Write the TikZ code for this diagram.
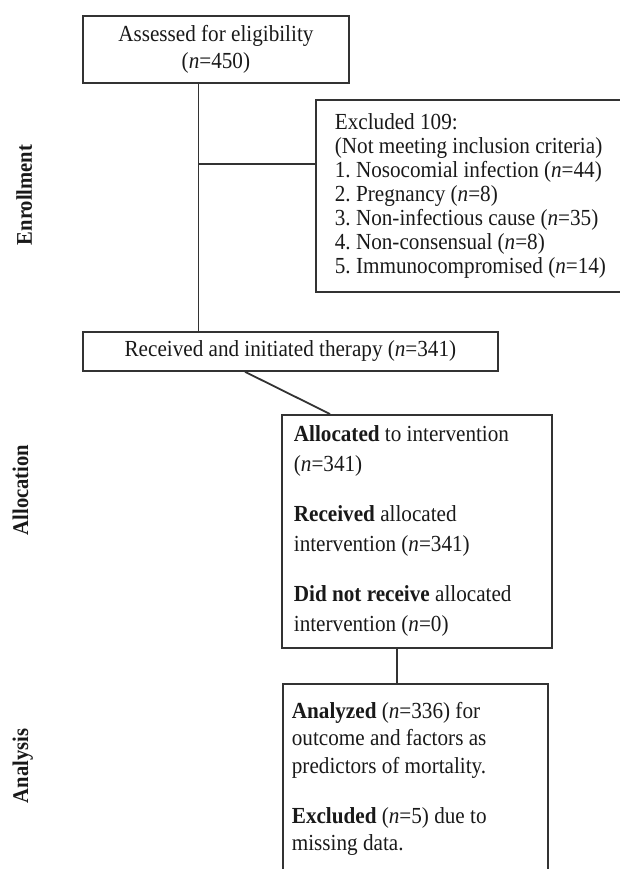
\documentclass[tikz,border=0pt]{standalone}
\usepackage{fontspec}
\setmainfont[FakeStretch=0.92]{Liberation Serif}
\frenchspacing

\begin{document}
\begin{tikzpicture}[x=0.5pt,y=-0.5pt,font=\fontsize{11.5}{13.5}\selectfont,
  box/.style={draw=black!80,line width=0.9pt,text=black!90,inner sep=0pt,anchor=north west},
  link/.style={draw=black!80,line width=0.9pt},
  phase/.style={rotate=90,anchor=base,text=black!90,font=\fontsize{11.2}{12}\selectfont\bfseries}]
  \clip (0,0) rectangle (620,869);
  \node[phase] (enrol) at (32,195) {Enrollment};
  \node[phase] (alloclab) at (28,490) {Allocation};
  \node[phase] (anlab) at (28,766) {Analysis};

  \node[box,minimum width=133pt,minimum height=33.5pt,align=flush center] (assess) at (82,15)
    {Assessed for eligibility\\(\textit{n}=450)};
  \node[box,minimum width=164pt,minimum height=96pt,inner xsep=9.5pt,text width=145pt,align=flush left,
    font=\fontsize{11.5}{12}\selectfont] (excl) at (315,99)
    {Excluded 109:\\(Not meeting inclusion criteria)\\1. Nosocomial infection (\textit{n}=44)\\
     2. Pregnancy (\textit{n}=8)\\3. Non-infectious cause (\textit{n}=35)\\
     4. Non-consensual (\textit{n}=8)\\5. Immunocompromised (\textit{n}=14)};
  \node[box,minimum width=207.5pt,minimum height=19.5pt] (recv) at (82,331)
    {Received and initiated therapy (\textit{n}=341)};
  \node[box,minimum width=135pt,minimum height=116.5pt,inner xsep=6pt,text width=123pt,align=flush left,
    font=\fontsize{11.5}{15}\selectfont] (alloc) at (281,414)
    {\textbf{Allocated} to intervention\\(\textit{n}=341)\\[10pt]
     \textbf{Received} allocated\\intervention (\textit{n}=341)\\[10pt]
     \textbf{Did not receive} allocated\\intervention (\textit{n}=0)};
  \node[box,minimum width=132.5pt,inner xsep=4.5pt,inner ysep=9pt,text width=123.5pt,align=flush left,
    font=\fontsize{11.5}{13.75}\selectfont] (an) at (282,683)
    {\textbf{Analyzed} (\textit{n}=336) for\\outcome and factors as\\predictors of mortality.\\[11.25pt]
     \textbf{Excluded} (\textit{n}=5) due to\\missing data.};

  \coordinate (jn) at (198.5,164);
  \coordinate (drop) at ([xshift=58pt]alloc.south west);
  \draw[link] (assess.south -| jn) -- (recv.north -| jn);
  \draw[link] (jn) -- (jn -| excl.west);
  \draw[link] ([xshift=81.5pt]recv.south west) -- ([xshift=24.5pt]alloc.north west);
  \draw[link] (drop) -- (drop |- an.north);
\end{tikzpicture}
\end{document}
